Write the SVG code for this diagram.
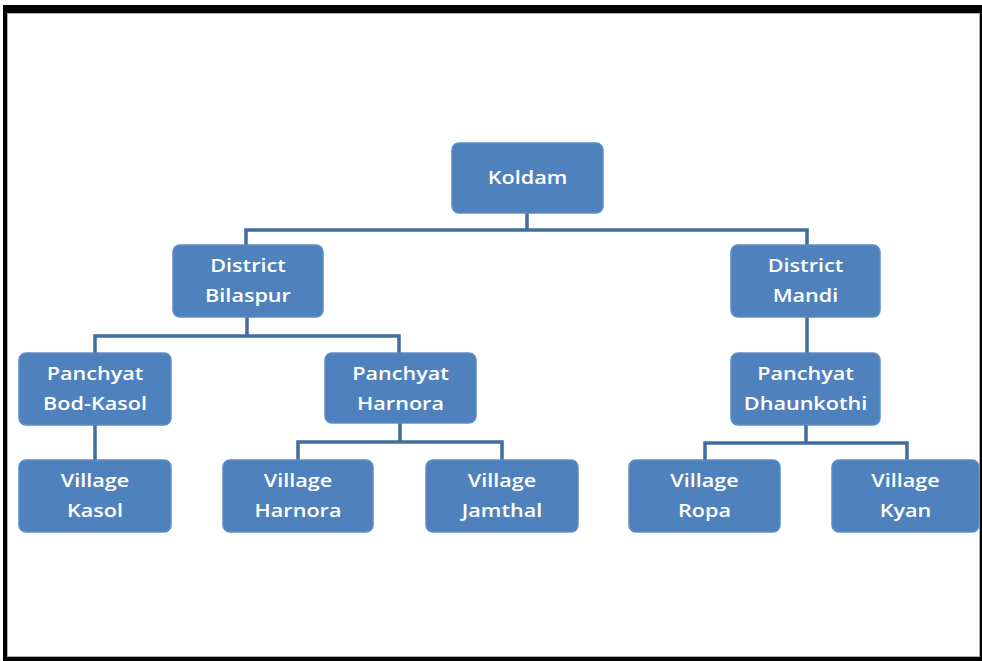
<svg xmlns="http://www.w3.org/2000/svg" width="982" height="661" viewBox="0 0 982 661">
<style>
.box{fill:#4f81bd;stroke:#5d8cc6;stroke-width:1.5}
.lbl{font-family:"Open Sans","Liberation Sans",sans-serif;font-size:18px;font-weight:600;fill:#ffffff;text-anchor:middle}
.conn{fill:none;stroke:#416d9f;stroke-width:3.5;stroke-linejoin:miter}
</style>
<rect x="0" y="0" width="982" height="661" fill="#ffffff"/>
<path d="M3 5H982V661H3Z M7 13V657H980V13Z" fill="#000000" fill-rule="evenodd"/>
<rect x="7.5" y="13.5" width="972" height="643" fill="none" stroke="#b0b0b0" stroke-width="1"/>
<g id="connectors">
<path class="conn" d="M527 213V230M246 245V230H807V245"/>
<path class="conn" d="M247 317V336M95 353V336H399V353"/>
<path class="conn" d="M807 317V353"/>
<path class="conn" d="M95 425V460"/>
<path class="conn" d="M400 423V442M298 460V442H502V460"/>
<path class="conn" d="M806 425V443M705 460V443H907V460"/>
</g>
<g id="koldam"><rect class="box" x="452" y="143" width="151" height="70" rx="7"/><text class="lbl" transform="translate(527.5 184) scale(1.2 1)">Koldam</text></g>
<g id="district-bilaspur"><rect class="box" x="173" y="245" width="150" height="72" rx="7"/><text class="lbl" transform="translate(248 272) scale(1.2 1)">District</text><text class="lbl" transform="translate(248 302) scale(1.2 1)">Bilaspur</text></g>
<g id="district-mandi"><rect class="box" x="731" y="245" width="149" height="72" rx="7"/><text class="lbl" transform="translate(805.5 272) scale(1.2 1)">District</text><text class="lbl" transform="translate(805.5 302) scale(1.2 1)">Mandi</text></g>
<g id="panchyat-bod-kasol"><rect class="box" x="19" y="353" width="152" height="72" rx="7"/><text class="lbl" transform="translate(95 380) scale(1.2 1)">Panchyat</text><text class="lbl" transform="translate(95 410) scale(1.2 1)">Bod-Kasol</text></g>
<g id="panchyat-harnora"><rect class="box" x="325" y="353" width="151" height="70" rx="7"/><text class="lbl" transform="translate(400.5 380) scale(1.2 1)">Panchyat</text><text class="lbl" transform="translate(400.5 410) scale(1.2 1)">Harnora</text></g>
<g id="panchyat-dhaunkothi"><rect class="box" x="731" y="353" width="149" height="72" rx="7"/><text class="lbl" transform="translate(805.5 380) scale(1.2 1)">Panchyat</text><text class="lbl" transform="translate(805.5 410) scale(1.2 1)">Dhaunkothi</text></g>
<g id="village-kasol"><rect class="box" x="19" y="460" width="152" height="72" rx="7"/><text class="lbl" transform="translate(95 487) scale(1.2 1)">Village</text><text class="lbl" transform="translate(95 517) scale(1.2 1)">Kasol</text></g>
<g id="village-harnora"><rect class="box" x="223" y="460" width="150" height="72" rx="7"/><text class="lbl" transform="translate(298 487) scale(1.2 1)">Village</text><text class="lbl" transform="translate(298 517) scale(1.2 1)">Harnora</text></g>
<g id="village-jamthal"><rect class="box" x="426" y="460" width="152" height="72" rx="7"/><text class="lbl" transform="translate(502 487) scale(1.2 1)">Village</text><text class="lbl" transform="translate(502 517) scale(1.2 1)">Jamthal</text></g>
<g id="village-ropa"><rect class="box" x="629" y="460" width="151" height="72" rx="7"/><text class="lbl" transform="translate(704.5 487) scale(1.2 1)">Village</text><text class="lbl" transform="translate(704.5 517) scale(1.2 1)">Ropa</text></g>
<g id="village-kyan"><rect class="box" x="832" y="460" width="147" height="72" rx="7"/><text class="lbl" transform="translate(905.5 487) scale(1.2 1)">Village</text><text class="lbl" transform="translate(905.5 517) scale(1.2 1)">Kyan</text></g>
</svg>
